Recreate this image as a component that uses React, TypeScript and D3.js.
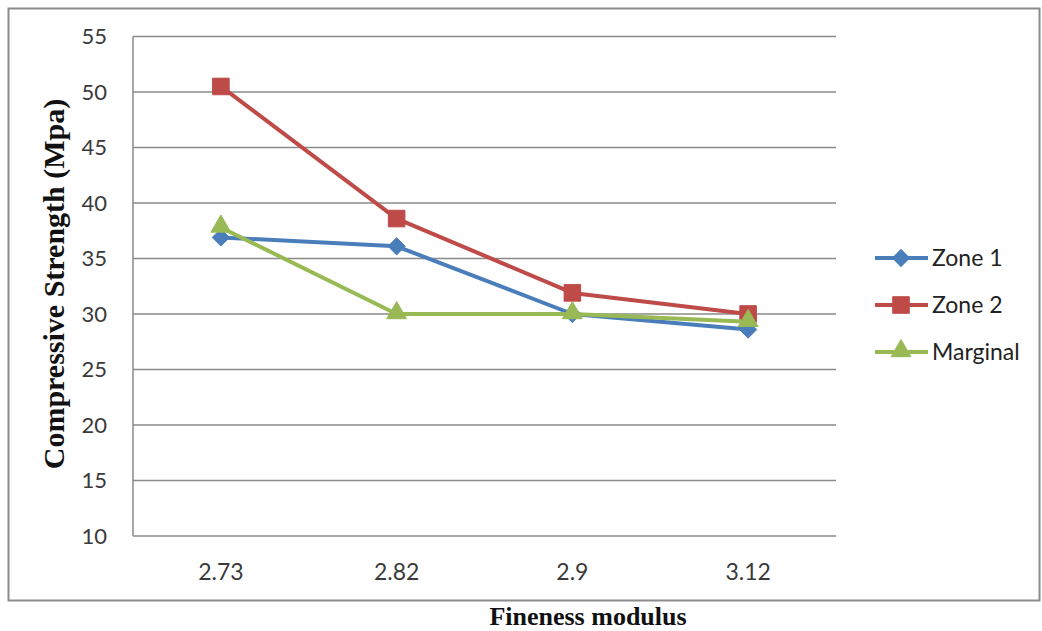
import React, { useEffect, useRef } from "react";
import * as d3 from "d3";

const categories = ["2.73", "2.82", "2.9", "3.12"];
const zone1 = [36.9, 36.1, 30.0, 28.6];
const zone2 = [50.5, 38.6, 31.9, 30.0];
const marginal = [37.8, 30.0, 30.0, 29.3];
const yTicks = [10, 15, 20, 25, 30, 35, 40, 45, 50, 55];
const seriesNames = ["Zone 1", "Zone 2", "Marginal"];

const W = 1042;
const H = 631;

export default function App() {
  const ref = useRef<SVGSVGElement>(null);

  useEffect(() => {
    const svg = d3.select(ref.current);
    svg.selectAll("*").remove();

    const left = 133, right = 836, top = 36.5, bottom = 536;
    const x = d3.scaleBand<string>().domain(categories).range([left, right]);
    const y = d3.scaleLinear().domain([10, 55]).range([bottom, top]);
    const cx = (c: string) => (x(c) as number) + x.bandwidth() / 2;
    const sans = "Lato, 'Open Sans', sans-serif";
    const serif = "'Liberation Serif', 'Times New Roman', serif";

    // outer frame
    svg.append("rect")
      .attr("x", 8.5).attr("y", 8.5).attr("width", 1031).attr("height", 592)
      .attr("fill", "#fff").attr("stroke", "#8c8c8c").attr("stroke-width", 2);

    // horizontal gridlines
    svg.append("g").selectAll("line").data(yTicks).join("line")
      .attr("x1", left).attr("x2", right)
      .attr("y1", (d) => y(d)).attr("y2", (d) => y(d))
      .attr("stroke", "#8a8a8a").attr("stroke-width", 1.5);

    // vertical axis line
    svg.append("line")
      .attr("x1", left).attr("x2", left).attr("y1", top).attr("y2", bottom)
      .attr("stroke", "#8a8a8a").attr("stroke-width", 1.5);

    // y tick labels
    svg.append("g").selectAll("text").data(yTicks).join("text")
      .attr("x", 107).attr("y", (d) => y(d))
      .attr("dy", "0.35em").attr("text-anchor", "end")
      .attr("font-family", sans).attr("font-size", 22)
      .attr("fill", "#3a3a3a").text((d) => d);

    // x tick labels
    svg.append("g").selectAll("text").data(categories).join("text")
      .attr("x", (d) => cx(d)).attr("y", 572)
      .attr("dy", "0.35em").attr("text-anchor", "middle")
      .attr("font-family", sans).attr("font-size", 23)
      .attr("fill", "#3a3a3a").text((d) => d);

    // axis titles
    svg.append("text")
      .attr("transform", `translate(64,284) rotate(-90)`)
      .attr("text-anchor", "middle")
      .attr("font-family", serif)
      .attr("font-weight", "bold").attr("font-size", 30)
      .attr("fill", "#111").text("Compressive Strength (Mpa)");

    svg.append("text")
      .attr("x", 588).attr("y", 625).attr("text-anchor", "middle")
      .attr("font-family", serif)
      .attr("font-weight", "bold").attr("font-size", 26)
      .attr("fill", "#111").text("Fineness modulus");

    const colors = ["#4a7ebb", "#be4b48", "#98b954"];
    const symbols = [d3.symbolDiamond2, d3.symbolSquare2, d3.symbolTriangle2];
    const sizes = [190, 350, 280];
    const data = [zone1, zone2, marginal];

    const line = d3.line<number>()
      .x((_, i) => cx(categories[i]))
      .y((d) => y(d));

    const drawMarker = (g: any, i: number, px: number, py: number) => {
      const sym = d3.symbol().type(symbols[i]).size(sizes[i]);
      const dy = i === 2 ? -1 : 0;
      g.append("path")
        .attr("d", sym() as string)
        .attr("transform", `translate(${px},${py + dy})`)
        .attr("fill", colors[i]).attr("stroke", colors[i]).attr("stroke-width", 1);
    };

    data.forEach((vals, i) => {
      const g = svg.append("g");
      g.append("path").datum(vals).attr("d", line as any)
        .attr("fill", "none").attr("stroke", colors[i])
        .attr("stroke-width", 4).attr("stroke-linejoin", "round");
      vals.forEach((v, j) => drawMarker(g, i, cx(categories[j]), y(v)));
    });

    // legend
    const legendY = [258, 305, 352];
    seriesNames.forEach((name, i) => {
      const g = svg.append("g");
      g.append("line")
        .attr("x1", 875).attr("x2", 928)
        .attr("y1", legendY[i]).attr("y2", legendY[i])
        .attr("stroke", colors[i]).attr("stroke-width", 4);
      drawMarker(g, i, 901, legendY[i]);
      g.append("text")
        .attr("x", 932).attr("y", legendY[i]).attr("dy", "0.35em")
        .attr("font-family", sans).attr("font-size", 23)
        .attr("fill", "#222").text(name);
    });
  }, []);

  return (
    <svg
      ref={ref}
      width={W}
      height={H}
      style={{ position: "absolute", left: 0, top: 0, background: "#fff" }}
    />
  );
}
